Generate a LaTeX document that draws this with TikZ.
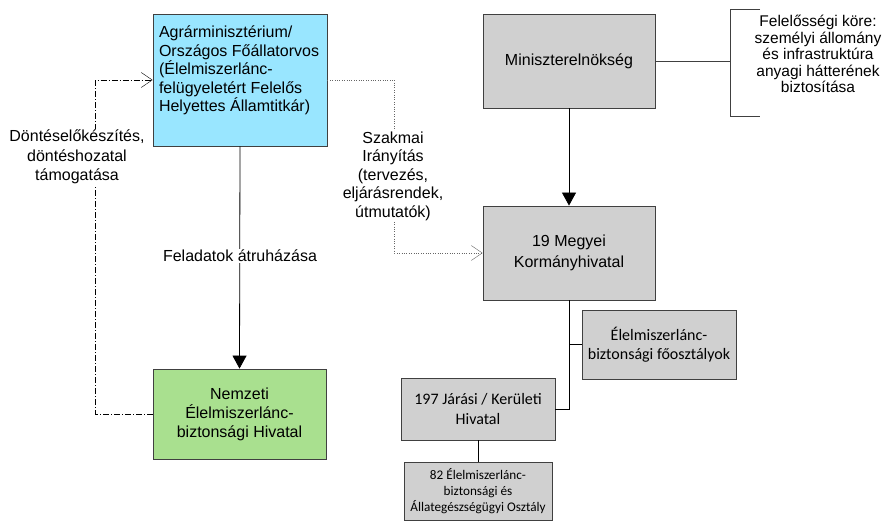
\documentclass[tikz,border=0pt]{standalone}
\usepackage{fontspec}
\setmainfont{Liberation Sans}
\newfontfamily\calibri{Carlito}
\usetikzlibrary{arrows.meta}
\definecolor{amblue}{HTML}{99E6FF}
\definecolor{nebihgreen}{HTML}{A9E08F}
\definecolor{hivgray}{HTML}{D0D0D0}
\begin{document}
\begin{tikzpicture}[x=1pt,y=-1pt,
    every node/.style={font=\fontsize{16}{18.5}\selectfont},
    box/.style={draw=black!75,line width=0.8pt,align=center,inner sep=0pt},
    solidarrow/.style={line width=0.8pt,-{Triangle[width=14pt,length=13pt]}},
    openarrow/.style={-{Straight Barb[width=15pt,length=11pt]}},
    lbl/.style={fill=white,align=center,inner sep=1pt}]
  \useasboundingbox (0,0) rectangle (888,521);
  % ministries
  \node[box,fill=amblue,inner xsep=6pt,inner ysep=7pt] (am) at (240,80)
    {\parbox[c][118pt][t]{162pt}{\raggedright\rule{0pt}{17pt}Agrárminisztérium/\\Országos Főállatorvos\\(Élelmiszerlánc-\\felügyeletért Felelős\\Helyettes Államtitkár)}};
  \node[box,fill=nebihgreen,minimum width=173pt,minimum height=90pt,font=\fontsize{16}{19}\selectfont] (nebih) at (239.5,414)
    {Nemzeti\\Élelmiszerlánc-\\biztonsági Hivatal};
  \node[box,fill=hivgray,minimum width=172pt,minimum height=94pt] (me) at (569,61) {Miniszterelnökség};
  \node[box,fill=hivgray,minimum width=172pt,minimum height=94pt,font=\fontsize{16}{21}\selectfont] (mh) at (569,253) {19 Megyei\\Kormányhivatal};
  % offices
  \node[box,fill=hivgray,minimum width=154pt,minimum height=69pt,font=\calibri\fontsize{16}{19.5}\selectfont] (fo) at (659,344.5)
    {Élelmiszerlánc-\\biztonsági főosztályok};
  \node[box,fill=hivgray,minimum width=154pt,minimum height=62pt,font=\calibri\fontsize{16}{19.5}\selectfont] (jh) at (478,409)
    {197 Járási / Kerületi\\Hivatal};
  \node[box,fill=hivgray,minimum width=148pt,minimum height=58pt,font=\calibri\fontsize{13.2}{16}\selectfont] (eo) at (478,491)
    {82 Élelmiszerlánc-\\biztonsági és\\Állategészségügyi Osztály};
  % connectors
  \draw[solidarrow] (am.south) -- (nebih.north);
  \node[lbl] (feladat) at (240,256) {Feladatok átruházása};
  \draw[openarrow,dash pattern=on 6pt off 2pt on 1pt off 2pt] (nebih.west) -- ++(-57,0) |- (am.west);
  \node[lbl,font=\fontsize{16}{19.5}\selectfont] (dontes) at (77,157) {Döntéselőkészítés,\\döntéshozatal\\támogatása};
  \draw[openarrow,dotted,black!60] (am.east) -- ++(67,0) |- (mh.west);
  \node[lbl] (szakmai) at (393,176)
    {Szakmai\\Irányítás\\(tervezés,\\eljárásrendek,\\útmutatók)};
  \draw[solidarrow] (me.south) -- (mh.north);
  \coordinate (brtop) at (760,9);
  \coordinate (brbot) at (760,116);
  \draw[black!75] (me.east) -- ++(75,0);
  \draw[black!75] (brtop) -- ++(-30,0) -- ++(0,107) -- (brbot);
  \node[align=center,font=\fontsize{15.5}{16.5}\selectfont] (felelos) at (818,54)
    {Felelősségi köre:\\személyi állomány\\és infrastruktúra\\anyagi hátterének\\biztosítása};
  \draw (mh.south) |- (jh.east);
  \draw (fo.west) -- (fo.west -| mh.south);
  \draw (jh.south) -- (eo.north);
\end{tikzpicture}
\end{document}
